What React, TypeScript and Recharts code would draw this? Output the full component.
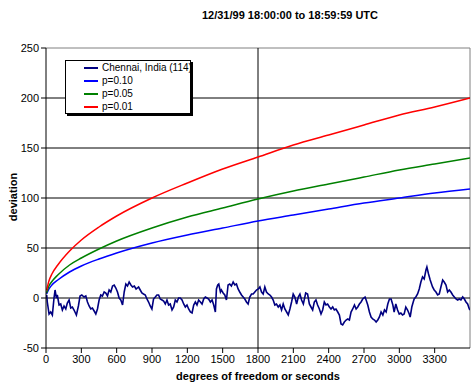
import React from "react";
import { LineChart, Line, XAxis, YAxis, ReferenceLine } from "recharts";

// smooth significance envelopes
const curveSeconds = [5, 25, 50, 100, 200, 300, 450, 600, 900, 1200, 1500, 1800, 2100, 2400, 2700, 3000, 3300, 3600];
const p10Values = [4, 9, 13, 18, 26, 32, 39, 45, 55, 63, 70, 77, 83, 89, 95, 100, 105, 109];
const p05Values = [5, 12, 16.5, 23, 33, 40, 49, 57, 70, 81, 90, 99, 107, 114, 121, 128, 134, 140];
const p01Values = [7.5, 17, 24, 33, 47, 58, 71, 82, 100, 115, 129, 141, 153, 163, 173, 183, 191, 200];

// cumulative deviation, Chennai, India (114)
const walkSeconds = [
  0, 6, 11, 26, 40, 54, 68, 77, 88, 96, 111, 125, 139, 153, 168, 181, 196, 210, 224, 238, 258, 275, 289, 304, 323, 338,
  352, 366, 380, 394, 409, 423, 437, 451, 465, 479, 494, 508, 522, 536, 550, 565, 579, 593, 607, 621, 635, 650, 664, 678,
  692, 706, 721, 735, 750, 765, 786, 800, 814, 828, 843, 857, 871, 885, 899, 913, 928, 942, 956, 970, 985, 999, 1013, 1027,
  1041, 1055, 1070, 1084, 1098, 1112, 1126, 1140, 1155, 1169, 1183, 1197, 1211, 1226, 1240, 1254, 1268, 1282, 1296, 1311,
  1325, 1339, 1353, 1367, 1381, 1396, 1410, 1424, 1438, 1447, 1458, 1467, 1481, 1489, 1504, 1518, 1532, 1546, 1560, 1574,
  1589, 1603, 1617, 1631, 1645, 1660, 1674, 1688, 1702, 1716, 1730, 1745, 1759, 1773, 1787, 1802, 1816, 1830, 1844, 1858,
  1872, 1887, 1901, 1915, 1929, 1943, 1957, 1972, 1986, 2000, 2014, 2028, 2043, 2057, 2071, 2085, 2099, 2113, 2128, 2142,
  2156, 2170, 2185, 2205, 2221, 2236, 2250, 2264, 2278, 2292, 2306, 2321, 2335, 2349, 2363, 2377, 2391, 2406, 2420, 2434,
  2448, 2462, 2477, 2491, 2505, 2519, 2533, 2548, 2562, 2576, 2590, 2604, 2619, 2633, 2647, 2661, 2675, 2689, 2709, 2718,
  2732, 2746, 2760, 2774, 2789, 2803, 2817, 2831, 2845, 2860, 2874, 2888, 2902, 2916, 2930, 2945, 2956, 2970, 2985, 2999,
  3013, 3027, 3041, 3055, 3070, 3084, 3092, 3106, 3118, 3126, 3140, 3155, 3169, 3183, 3197, 3211, 3226, 3234, 3248, 3262,
  3282, 3296, 3311, 3325, 3339, 3353, 3368, 3381, 3396, 3410, 3424, 3438, 3453, 3467, 3481, 3495, 3509, 3523, 3538, 3552,
  3566, 3580, 3594, 3600,
];
const walkDeviation = [
  0, 3, -4, -16, -14, -17, 0, 8, 0, 3, -7, -6, -12, -8, -11, -5, -2, -10, -9, -12, -17, -8, 2, 3, 1, 2,
  -4, -8, -11, -10, -13, -16, -11, -2, 3, 2, 6, 5, 2, 8, 6, 12, 13, 10, 6, 0, -2, -7, 6, 14,
  12, 16, 13, 11, 12, 9, 11, 8, 5, 4, 3, -1, -4, -8, -11, -1, 1, 3, 3, -1, -2, -3, -6, -2,
  -7, -6, -12, -9, -2, -4, 0, 0, -2, -6, -9, -7, -11, -14, -15, -7, -4, -7, -2, -4,
  -6, -1, 1, 0, -1, -4, -2, -7, -14, 9, 13, 14, 6, 8, 5, 3, -2, 13, 14, 12,
  16, 13, 14, 9, 6, 3, 1, -1, -4, -6, 1, 4, 4, 6, 8, 9, 11, 6, 4, 11,
  6, 4, 3, 1, -2, -7, -6, -9, -7, -12, -6, -11, -14, -17, -11, -4, 4, 1, -6, 1,
  4, -2, -6, 5, 4, -6, -9, -12, -4, -2, -7, -11, -16, -12, -4, -7, -6, -9, -11, -9,
  -12, -11, -14, -17, -26, -27, -24, -22, -21, -22, -14, -11, -7, -11, -9, -6, -4, -1, 1, -2,
  -7, -14, -19, -21, -22, -24, -22, -19, -14, -17, -12, -14, -6, -1, -1, -7, -14, -6, -12, -16,
  -15, -17, -16, -9, -12, -16, -19, -9, -4, -1, 1, 4, 9, 16, 21, 19, 28, 31, 24, 18,
  11, 8, 6, 3, 4, 11, 18, 16, 13, 6, 8, 6, 3, 1, -1, -2, -1, -2, 1, -1,
  -4, -6, -11, -12,
];

const xTicks = [0, 300, 600, 900, 1200, 1500, 1800, 2100, 2400, 2700, 3000, 3300];
const yTicks = [-50, 0, 50, 100, 150, 200, 250];
const gridValues = [0, 50, 100, 150, 200];

const legendItems = [
  { name: "Chennai, India (114)", color: "#000080" },
  { name: "p=0.10", color: "#0000FF" },
  { name: "p=0.05", color: "#008000" },
  { name: "p=0.01", color: "#FF0000" },
];

const walkData = walkSeconds.map((x, i) => ({ x, v: walkDeviation[i] }));
const p10Data = curveSeconds.map((x, i) => ({ x, v: p10Values[i] }));
const p05Data = curveSeconds.map((x, i) => ({ x, v: p05Values[i] }));
const p01Data = curveSeconds.map((x, i) => ({ x, v: p01Values[i] }));

const font = "'Liberation Sans', Arial, sans-serif";

export default function App() {
  return (
    <div style={{ position: "absolute", left: 0, top: 0, width: 475, height: 386, background: "#fff", fontFamily: font }}>
      <div style={{ position: "absolute", left: 120, width: 340, top: 9, textAlign: "center", fontSize: 11, fontWeight: "bold" }}>
        12/31/99 18:00:00 to 18:59:59 UTC
      </div>
      <LineChart width={475} height={386} data={walkData} margin={{ top: 48, right: 5, bottom: 18, left: 0 }}>
        <XAxis dataKey="x" type="number" domain={[0, 3600]} ticks={xTicks} allowDataOverflow
          stroke="#000" tickSize={5} tick={{ fill: "#000", fontSize: 11, fontFamily: font }} height={20} interval={0} />
        <YAxis type="number" domain={[-50, 250]} ticks={yTicks} allowDataOverflow width={46}
          stroke="#000" tickSize={5} tick={{ fill: "#000", fontSize: 11, fontFamily: font }} interval={0} />
        <ReferenceLine y={250} stroke="#808080" />
        <ReferenceLine x={3600} stroke="#808080" />
        {gridValues.map(v => <ReferenceLine key={v} y={v} stroke="#000" />)}
        <ReferenceLine x={1800} stroke="#000" />
        <Line data={walkData} dataKey="v" stroke="#000080" strokeWidth={1.6} dot={false} isAnimationActive={false} type="linear" />
        <Line data={p10Data} dataKey="v" stroke="#0000FF" strokeWidth={1.5} dot={false} isAnimationActive={false} type="monotone" />
        <Line data={p05Data} dataKey="v" stroke="#008000" strokeWidth={1.5} dot={false} isAnimationActive={false} type="monotone" />
        <Line data={p01Data} dataKey="v" stroke="#FF0000" strokeWidth={1.5} dot={false} isAnimationActive={false} type="monotone" />
      </LineChart>
      <div style={{ position: "absolute", left: 0, top: 197, transform: "translate(-50%, -50%) rotate(-90deg)", marginLeft: 13, fontSize: 11, fontWeight: "bold" }}>
        deviation
      </div>
      <div style={{ position: "absolute", left: 46, width: 424, top: 370, textAlign: "center", fontSize: 11, fontWeight: "bold" }}>
        degrees of freedom or seconds
      </div>
      <div style={{ position: "absolute", left: 65, top: 60, width: 124, height: 52, border: "1px solid #000", background: "#fff", boxShadow: "2px 2px 0 #000" }}>
        {legendItems.map(it => (
          <div key={it.name} style={{ display: "flex", alignItems: "center", height: 13, fontSize: 10, whiteSpace: "nowrap", lineHeight: "12px" }}>
            <span style={{ display: "inline-block", flexShrink: 0, width: 14, height: 2, background: it.color, marginLeft: 18, marginRight: 4 }} />
            <span>{it.name}</span>
          </div>
        ))}
      </div>
    </div>
  );
}
